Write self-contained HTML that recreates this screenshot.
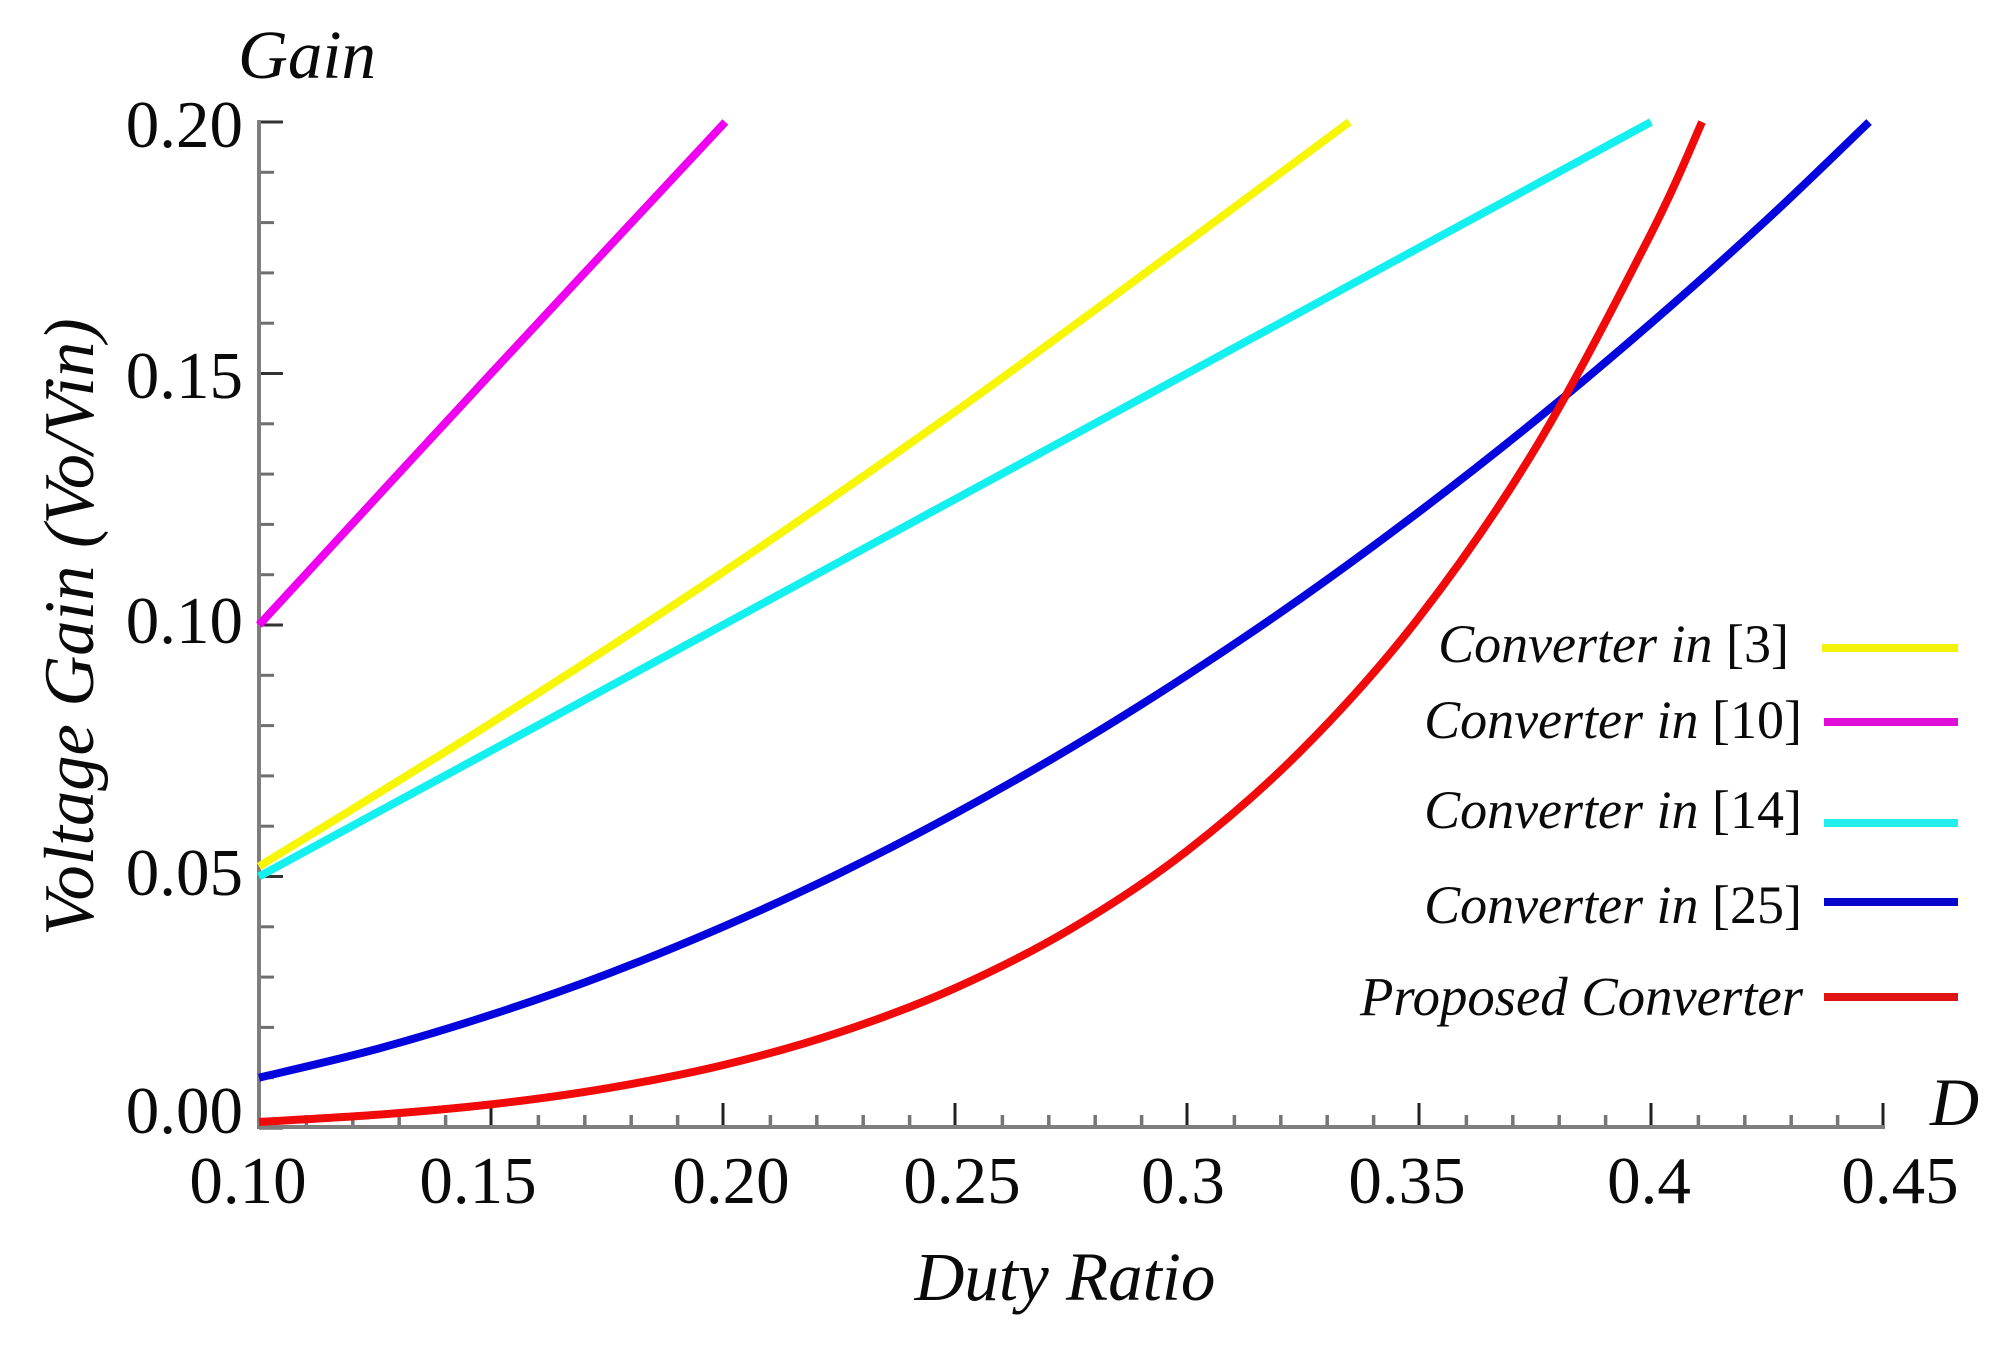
<!DOCTYPE html>
<html>
<head>
<meta charset="utf-8">
<title>Voltage Gain vs Duty Ratio</title>
<style>
html,body{margin:0;padding:0;background:#fff;}
svg{display:block;}
text{font-family:"Liberation Serif",serif;fill:#0a0a0a;}
.it{font-style:italic;}
</style>
</head>
<body>
<svg id="chart" width="2005" height="1349" viewBox="0 0 2005 1349" xmlns="http://www.w3.org/2000/svg">
  <rect x="0" y="0" width="2005" height="1349" fill="#ffffff"/>
  <g id="axes"></g>
  <g id="series"></g>
  <text class="it" x="238" y="78" font-size="69">Gain</text>
  <text class="it" x="1930" y="1125" font-size="68">D</text>
  <text class="it" x="1065" y="1300" font-size="69" text-anchor="middle">Duty Ratio</text>
  <text class="it" font-size="70.5" text-anchor="middle" transform="translate(93 627) rotate(-90)">Voltage Gain (Vo/Vin)</text>
  <g>
    <text x="1789" y="662" font-size="54" text-anchor="end"><tspan class="it">Converter in </tspan>[3]</text>
    <line x1="1822" x2="1958" y1="648" y2="648" stroke="#f2f20a" stroke-width="8"/>
    <text x="1802" y="738" font-size="54" text-anchor="end"><tspan class="it">Converter in </tspan>[10]</text>
    <line x1="1824" x2="1958" y1="722" y2="722" stroke="#e00cd8" stroke-width="8"/>
    <text x="1802" y="828" font-size="54" text-anchor="end"><tspan class="it">Converter in </tspan>[14]</text>
    <line x1="1824" x2="1958" y1="823" y2="823" stroke="#22eeee" stroke-width="8"/>
    <text x="1802" y="923" font-size="54" text-anchor="end"><tspan class="it">Converter in </tspan>[25]</text>
    <line x1="1824" x2="1958" y1="902" y2="902" stroke="#0606cc" stroke-width="8"/>
    <text class="it" x="1803" y="1015" font-size="54.7" text-anchor="end">Proposed Converter</text>
    <line x1="1824" x2="1958" y1="997" y2="997" stroke="#e01414" stroke-width="8"/>
  </g>
</svg>
<script>
const xTickValues = [0.10, 0.15, 0.20, 0.25, 0.30, 0.35, 0.40, 0.45];
const xTickLabels = ["0.10", "0.15", "0.20", "0.25", "0.3", "0.35", "0.4", "0.45"];
const yTickValues = [0.00, 0.05, 0.10, 0.15, 0.20];
const yTickLabels = ["0.00", "0.05", "0.10", "0.15", "0.20"];

const magentaD = [0.10, 0.15, 0.2005];
const magentaGain = [0.10, 0.15, 0.20];

const yellowD = [0.10, 0.15, 0.20, 0.25, 0.30, 0.335];
const yellowGain = [0.052, 0.0805, 0.1105, 0.1424, 0.1761, 0.20];

const cyanD = [0.10, 0.15, 0.20, 0.25, 0.30, 0.35, 0.40];
const cyanGain = [0.05, 0.075, 0.10, 0.125, 0.15, 0.175, 0.20];

const blueD = [0.10, 0.125, 0.15, 0.175, 0.20, 0.225, 0.25, 0.275, 0.30, 0.325, 0.35, 0.375, 0.40, 0.425, 0.447];
const blueGain = [0.010, 0.0156, 0.0225, 0.0306, 0.040, 0.0506, 0.0625, 0.0756, 0.090, 0.1056, 0.1225, 0.1406, 0.160, 0.1806, 0.20];

const redD = [0.10, 0.125, 0.15, 0.175, 0.20, 0.225, 0.25, 0.275, 0.30, 0.325, 0.35, 0.375, 0.40, 0.411];
const redGain = [0.0012, 0.0026, 0.0047, 0.0079, 0.0125, 0.019, 0.0278, 0.0396, 0.0551, 0.0754, 0.1015, 0.135, 0.1778, 0.20];

const NS = "http://www.w3.org/2000/svg";
const plot = { x0: 259, x1: 1883, y0: 1128, y1: 122, dMin: 0.10, dMax: 0.45, gMin: 0, gMax: 0.20 };
function xScale(d) { return plot.x0 + (d - plot.dMin) / (plot.dMax - plot.dMin) * (plot.x1 - plot.x0); }
function yScale(g) { return plot.y0 + (g - plot.gMin) / (plot.gMax - plot.gMin) * (plot.y1 - plot.y0); }

const axes = document.getElementById("axes");
const seriesGroup = document.getElementById("series");

function addLine(parent, x1, y1, x2, y2, color, width) {
  const l = document.createElementNS(NS, "line");
  l.setAttribute("x1", x1);
  l.setAttribute("y1", y1);
  l.setAttribute("x2", x2);
  l.setAttribute("y2", y2);
  l.setAttribute("stroke", color);
  l.setAttribute("stroke-width", width);
  parent.appendChild(l);
  return l;
}

function smoothPath(ds, gs) {
  const pts = ds.map(function (d, i) { return [xScale(d), yScale(gs[i])]; });
  let p = "M" + pts[0][0].toFixed(2) + " " + pts[0][1].toFixed(2);
  for (let i = 0; i < pts.length - 1; i++) {
    const a = pts[Math.max(i - 1, 0)], b = pts[i], c = pts[i + 1], e = pts[Math.min(i + 2, pts.length - 1)];
    const c1x = b[0] + (c[0] - a[0]) / 6, c1y = b[1] + (c[1] - a[1]) / 6;
    const c2x = c[0] - (e[0] - b[0]) / 6, c2y = c[1] - (e[1] - b[1]) / 6;
    p += "C" + c1x.toFixed(2) + " " + c1y.toFixed(2) + " " + c2x.toFixed(2) + " " + c2y.toFixed(2) + " " + c[0].toFixed(2) + " " + c[1].toFixed(2);
  }
  return p;
}

function addSeries(ds, gs, color) {
  const path = document.createElementNS(NS, "path");
  path.setAttribute("d", smoothPath(ds, gs));
  path.setAttribute("fill", "none");
  path.setAttribute("stroke", color);
  path.setAttribute("stroke-width", "8");
  seriesGroup.appendChild(path);
  return path;
}

// minor ticks: four between each pair of major ticks
for (let i = 0; i < xTickValues.length - 1; i++) {
  for (let k = 1; k < 5; k++) {
    const d = xTickValues[i] + (xTickValues[i + 1] - xTickValues[i]) * k / 5;
    const t = addLine(axes, xScale(d) + 1, plot.y0, xScale(d) + 1, plot.y0 - 13, "#757575", 3.5);
    
    
  }
}
for (let i = 0; i < yTickValues.length - 1; i++) {
  for (let k = 1; k < 5; k++) {
    const g = yTickValues[i] + (yTickValues[i + 1] - yTickValues[i]) * k / 5;
    const t = addLine(axes, plot.x0, yScale(g), plot.x0 + 15, yScale(g), "#6e6e6e", 3);
    
    
  }
}

const xLabelNudge = [-11, -13, 8, 7, -4, -12, -2, 17];
xTickValues.forEach(function (d, i) {
  const t = addLine(axes, xScale(d), plot.y0, xScale(d), plot.y0 - 25, "#222222", 3);
  
  
  const label = document.createElementNS(NS, "text");
  label.setAttribute("x", xScale(d) + xLabelNudge[i]);
  label.setAttribute("y", 1203);
  label.setAttribute("font-size", "67");
  label.setAttribute("text-anchor", "middle");
  
  
  label.textContent = xTickLabels[i];
  axes.appendChild(label);
});

const yLabelNudge = [5, 18.5, 18, 24.5, 25];
yTickValues.forEach(function (g, i) {
  const t = addLine(axes, plot.x0, yScale(g), plot.x0 + 24, yScale(g), "#333333", 3);
  
  
  const label = document.createElementNS(NS, "text");
  label.setAttribute("x", 243);
  label.setAttribute("y", yScale(g) + yLabelNudge[i]);
  label.setAttribute("font-size", "67");
  label.setAttribute("text-anchor", "end");
  
  
  label.textContent = yTickLabels[i];
  axes.appendChild(label);
});

const yAxisLine = addLine(axes, plot.x0, plot.y1 - 2, plot.x0, plot.y0 + 1, "#7e7e7e", 4);


const xAxisLine = addLine(axes, plot.x0 - 2, plot.y0 - 1, plot.x1 + 2, plot.y0 - 1, "#7e7e7e", 4);



const magentaLine = addSeries(magentaD, magentaGain, "#f000f0");


const yellowLine = addSeries(yellowD, yellowGain, "#f6f606");


const cyanLine = addSeries(cyanD, cyanGain, "#14f0f0");


const blueLine = addSeries(blueD, blueGain, "#0404dc");


const redLine = addSeries(redD, redGain, "#f00a0a");


</script>
</body>
</html>
